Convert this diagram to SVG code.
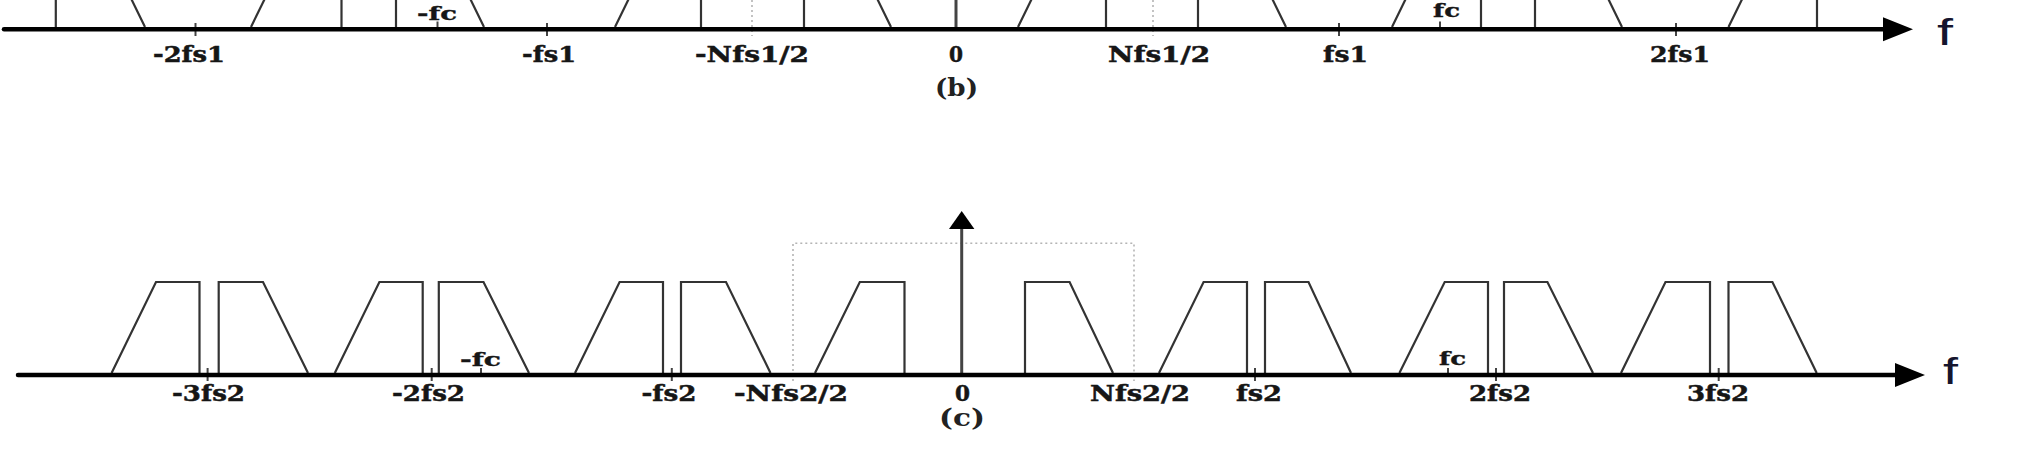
<svg xmlns="http://www.w3.org/2000/svg" width="2032" height="454" viewBox="0 0 2032 454">
<style>
.bg{fill:#fff}
.spec{fill:none;stroke:#333;stroke-width:2.2;stroke-linejoin:miter}
.axis{stroke:#000;stroke-width:4.5;stroke-linecap:round}
.tick{stroke:#444;stroke-width:2}
.dot{fill:none;stroke:#b4b4b4;stroke-width:1.6;stroke-dasharray:2 3}
.zero{stroke:#444;stroke-width:3}
.lbl{font-family:"DejaVu Serif","Liberation Serif",serif;font-weight:bold;font-size:22px;fill:#161616;stroke:#161616;stroke-width:0.5}
.fc{font-family:"DejaVu Serif","Liberation Serif",serif;font-weight:bold;font-size:19px;fill:#161616;stroke:#161616;stroke-width:0.4}
.cap{font-family:"DejaVu Serif","Liberation Serif",serif;font-weight:bold;font-size:25px;fill:#222}
.f{font-family:"Liberation Sans",Arial,sans-serif;font-size:36px;fill:#15152e}
</style>
<defs>
<marker id="ah" markerUnits="userSpaceOnUse" markerWidth="32" markerHeight="26" refX="1" refY="12" orient="auto"><path d="M0,0 L30,12 L0,24 z" fill="#000"/></marker>
<marker id="ahv" markerUnits="userSpaceOnUse" markerWidth="20" markerHeight="27" refX="1" refY="12.7" orient="auto"><path d="M0,0 L18,12.7 L0,25.4 z" fill="#000"/></marker>
</defs>
<rect class="bg" x="0" y="0" width="2032" height="454"/>

<g id="panel-b-spectrum">
<path class="spec" d="M55.8,27 L55.8,-64 L100.5,-64 L145,27"/>
<path class="spec" d="M251,27 L295.5,-64 L341.5,-64 L341.5,27"/>
<path class="spec" d="M396,27 L396,-64 L439.5,-64 L484,27"/>
<path class="spec" d="M615,27 L659.5,-64 L701,-64 L701,27"/>
<path class="spec" d="M804,27 L804,-64 L846.5,-64 L891,27"/>
<path class="spec" d="M1018,27 L1062.5,-64 L1106,-64 L1106,27"/>
<path class="spec" d="M1198,27 L1198,-64 L1241.5,-64 L1286,27"/>
<path class="spec" d="M1392,27 L1436.5,-64 L1481,-64 L1481,27"/>
<path class="spec" d="M1535,27 L1535,-64 L1577.5,-64 L1622,27"/>
<path class="spec" d="M1728.5,27 L1773,-64 L1817,-64 L1817,27"/>
</g>

<g id="panel-c-spectrum">
<path class="spec" d="M111.6,373 L156,282 L199.5,282 L199.5,373"/>
<path class="spec" d="M218.7,373 L218.7,282 L263,282 L308,373"/>
<path class="spec" d="M334.8,373 L379.4,282 L422.7,282 L422.7,373"/>
<path class="spec" d="M438.8,373 L438.8,282 L483.5,282 L529,373"/>
<path class="spec" d="M575,373 L619.6,282 L663,282 L663,373"/>
<path class="spec" d="M681,373 L681,282 L726,282 L770.5,373"/>
<path class="spec" d="M815,373 L859.8,282 L904.5,282 L904.5,373"/>
<path class="spec" d="M1025,373 L1025,282 L1069.6,282 L1113,373"/>
<path class="spec" d="M1159,373 L1203.6,282 L1247,282 L1247,373"/>
<path class="spec" d="M1265,373 L1265,282 L1308.5,282 L1351,373"/>
<path class="spec" d="M1399.4,373 L1444.7,282 L1488,282 L1488,373"/>
<path class="spec" d="M1504,373 L1504,282 L1547.4,282 L1593,373"/>
<path class="spec" d="M1621,373 L1665.5,282 L1710,282 L1710,373"/>
<path class="spec" d="M1728.5,373 L1728.5,282 L1772.4,282 L1816.7,373"/>
</g>

<g id="panel-b-guides">
<line class="dot" x1="752" y1="0" x2="752" y2="36"/>
<line class="dot" x1="1153" y1="0" x2="1153" y2="36"/>
<line class="tick" x1="195.5" y1="23" x2="195.5" y2="36"/>
<line class="tick" x1="547" y1="23" x2="547" y2="36"/>
<line class="tick" x1="1339" y1="23" x2="1339" y2="36"/>
<line class="tick" x1="1676" y1="23" x2="1676" y2="36"/>
<line class="tick" x1="437.5" y1="21.5" x2="437.5" y2="28"/>
<line class="tick" x1="1440" y1="21.5" x2="1440" y2="28"/>
</g>

<g id="panel-c-guides">
<path class="dot" d="M793,381 L793,243.3 L1134,243.3 L1134,381"/>
<line class="tick" x1="207.6" y1="368" x2="207.6" y2="381"/>
<line class="tick" x1="431.7" y1="368" x2="431.7" y2="381"/>
<line class="tick" x1="671.8" y1="368" x2="671.8" y2="381"/>
<line class="tick" x1="1255" y1="368" x2="1255" y2="381"/>
<line class="tick" x1="1496" y1="368" x2="1496" y2="381"/>
<line class="tick" x1="1718.7" y1="368" x2="1718.7" y2="381"/>
<line class="tick" x1="481" y1="368" x2="481" y2="375"/>
<line class="tick" x1="1448" y1="368" x2="1448" y2="375"/>
</g>

<g id="connectors">
<line class="zero" x1="956" y1="-5" x2="956" y2="28"/>
<line class="axis" x1="4" y1="29.3" x2="1884" y2="29.3" marker-end="url(#ah)"/>
<line class="zero" x1="961.7" y1="373" x2="961.7" y2="228" marker-end="url(#ahv)"/>
<line class="axis" x1="18" y1="375" x2="1896" y2="375" marker-end="url(#ah)"/>
</g>

<g id="panel-b-labels">
<text class="lbl" x="153" y="62" textLength="72" lengthAdjust="spacingAndGlyphs">-2fs1</text>
<text class="lbl" x="522" y="62" textLength="54" lengthAdjust="spacingAndGlyphs">-fs1</text>
<text class="lbl" x="695" y="62" textLength="114" lengthAdjust="spacingAndGlyphs">-Nfs1/2</text>
<text class="lbl" x="949" y="62" textLength="14" lengthAdjust="spacingAndGlyphs">0</text>
<text class="lbl" x="1108" y="62" textLength="102" lengthAdjust="spacingAndGlyphs">Nfs1/2</text>
<text class="lbl" x="1323" y="62" textLength="45" lengthAdjust="spacingAndGlyphs">fs1</text>
<text class="lbl" x="1650" y="62" textLength="60" lengthAdjust="spacingAndGlyphs">2fs1</text>
<text class="fc" x="417" y="20" textLength="40" lengthAdjust="spacingAndGlyphs">-fc</text>
<text class="fc" x="1433" y="17" textLength="27" lengthAdjust="spacingAndGlyphs">fc</text>
<text class="cap" x="935" y="96" textLength="43" lengthAdjust="spacingAndGlyphs">(b)</text>
<text class="f" x="1937" y="45" textLength="16" lengthAdjust="spacingAndGlyphs">f</text>
</g>

<g id="panel-c-labels">
<text class="lbl" x="172" y="401" textLength="73" lengthAdjust="spacingAndGlyphs">-3fs2</text>
<text class="lbl" x="392" y="401" textLength="73" lengthAdjust="spacingAndGlyphs">-2fs2</text>
<text class="lbl" x="641.5" y="401" textLength="55" lengthAdjust="spacingAndGlyphs">-fs2</text>
<text class="lbl" x="734" y="401" textLength="114" lengthAdjust="spacingAndGlyphs">-Nfs2/2</text>
<text class="lbl" x="955" y="401" textLength="15" lengthAdjust="spacingAndGlyphs">0</text>
<text class="lbl" x="1090" y="401" textLength="100" lengthAdjust="spacingAndGlyphs">Nfs2/2</text>
<text class="lbl" x="1236" y="401" textLength="46" lengthAdjust="spacingAndGlyphs">fs2</text>
<text class="lbl" x="1469" y="401" textLength="62" lengthAdjust="spacingAndGlyphs">2fs2</text>
<text class="lbl" x="1687" y="401" textLength="62" lengthAdjust="spacingAndGlyphs">3fs2</text>
<text class="fc" x="460" y="366" textLength="41" lengthAdjust="spacingAndGlyphs">-fc</text>
<text class="fc" x="1439" y="365" textLength="27" lengthAdjust="spacingAndGlyphs">fc</text>
<text class="cap" x="939" y="426" textLength="46" lengthAdjust="spacingAndGlyphs">(c)</text>
<text class="f" x="1943" y="384" textLength="15" lengthAdjust="spacingAndGlyphs">f</text>
</g>
</svg>
